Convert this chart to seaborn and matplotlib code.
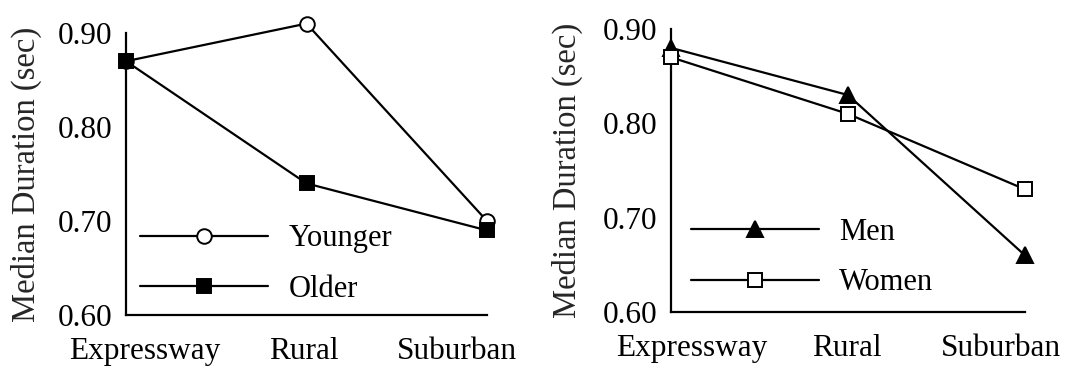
import matplotlib
matplotlib.use("Agg")
import matplotlib.pyplot as plt
import matplotlib.transforms as mtransforms
import seaborn as sns
import pandas as pd

categories = ["Expressway", "Rural", "Suburban"]
younger = [0.87, 0.91, 0.70]
older = [0.87, 0.74, 0.69]
men = [0.88, 0.83, 0.66]
women = [0.87, 0.81, 0.73]
yticks = [0.60, 0.70, 0.80, 0.90]
ylabel = "Median Duration (sec)"

sns.set_theme(style="white")
plt.rcParams["font.family"] = ["Liberation Serif", "DejaVu Serif"]

FS = 22.5
LFS = 22
YFS = 23.5
fig = plt.figure(figsize=(10.82, 3.72), dpi=100)
ax1 = fig.add_axes([126/1082, 1-315/372, (487-126)/1082, (315-33)/372])
ax2 = fig.add_axes([671/1082, 1-312/372, (1025-671)/1082, (312-29)/372])

def draw(ax, series, legpos, shifts, labx):
    for vals, label, mk, face in series:
        df = pd.DataFrame({"x": categories, "y": vals})
        sns.lineplot(data=df, x="x", y="y", ax=ax, color="black", lw=1.6,
                     marker=mk, markersize=10.5 if mk != "^" else 11.5,
                     markerfacecolor=face, markeredgecolor="black",
                     markeredgewidth=1.4, label=label, clip_on=False, zorder=3)
    ax.set_xlim(0, 2)
    ax.set_ylim(0.60, 0.90)
    ax.set_yticks(yticks)
    ax.set_yticklabels([f"{t:.2f}" for t in yticks], fontsize=FS)
    ax.set_xticks(range(len(categories)))
    ax.set_xticklabels(categories, fontsize=FS)
    ax.set_xlabel("")
    ax.set_ylabel(ylabel, fontsize=YFS)
    ax.yaxis.set_label_coords(labx, 0.5)
    for s in ["top", "right"]:
        ax.spines[s].set_visible(False)
    for s in ["left", "bottom"]:
        ax.spines[s].set_color("black")
        ax.spines[s].set_linewidth(1.6)
    ax.tick_params(axis="y", direction="out", length=8, width=1.6, colors="black", pad=2)
    ax.tick_params(axis="x", direction="inout", length=14, width=1.6, colors="black", pad=9)
    ax.set_facecolor("white")
    for lab, dx in zip(ax.get_xticklabels(), shifts):
        lab.set_transform(lab.get_transform() + mtransforms.ScaledTranslation(dx/100, 0, fig.dpi_scale_trans))
    leg = ax.legend(loc="lower left", bbox_to_anchor=legpos, frameon=False,
                    fontsize=LFS, handlelength=4.2, handletextpad=0.65,
                    labelspacing=0.7, borderpad=0, borderaxespad=0)
    for t in leg.get_texts():
        t.set_color("black")

draw(ax1, [(younger, "Younger", "o", "white"), (older, "Older", "s", "black")],
     (0.039, 0.04), [19, -3, -30], -0.233)
draw(ax2, [(men, "Men", "^", "black"), (women, "Women", "s", "white")],
     (0.056, 0.052), [21, -1, -24], -0.249)

fig.savefig("out.png", dpi=100, facecolor="white")
